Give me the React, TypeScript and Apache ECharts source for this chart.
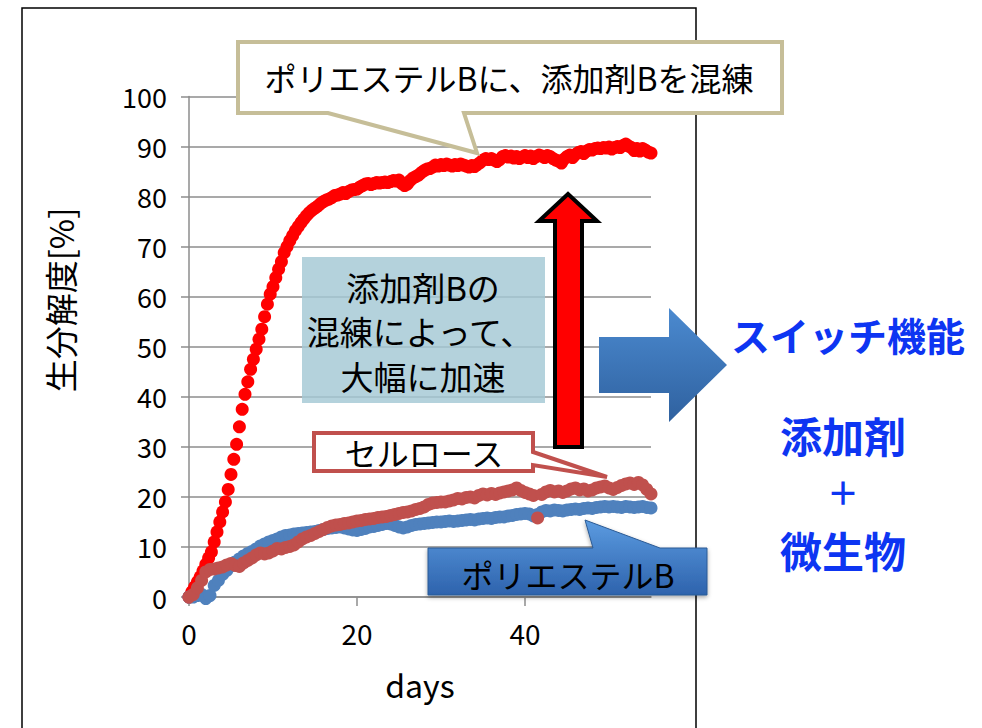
import React, { useEffect, useRef } from "react";
import * as echarts from "echarts";

// ---- data ----
const RED_INTERVAL_DAYS = 1 / 3; // sampling interval of the additive series
const LOW_INTERVAL_DAYS = 0.5; // sampling interval of the two lower series

const ADDITIVE_NAME = "ポリエステルB＋添加剤B";
const ADDITIVE_VALUES = [
  0, 1, 2, 3, 4, 5.2, 6.5, 7.8, 9, 11,
  13, 15, 17, 19, 21.5, 24.5, 27.5, 30.5, 34, 37.5,
  40.5, 43, 45.5, 47.5, 49.5, 51.5, 53.5, 56, 58.5, 60.5,
  62, 63.8, 65.5, 67, 68.8, 70, 71.2, 72.2, 73.2, 74,
  74.8, 75.5, 76.2, 76.8, 77.3, 77.7, 78.1, 78.6, 79, 79.3,
  79.5, 79.8, 80.2, 80.3, 80.5, 80.8, 80.6, 81, 81.3, 81.4,
  81.5, 81.9, 82.2, 82.5, 82.6, 82.4, 82.6, 82.8, 82.7, 82.8,
  82.9, 82.8, 83, 83.2, 83.1, 83.3, 82.6, 82.2, 82.5, 83.2,
  83.7, 84, 84.3, 84.8, 85.2, 85.5, 85.6, 85.9, 86.3, 86.1,
  86.4, 86.2, 86.5, 86.3, 86.1, 86.4, 86.2, 86.5, 86.3, 86.1,
  85.9, 86.2, 86, 86.4, 86.8, 87.3, 87.6, 87.4, 87.6, 87.3,
  87, 87.4, 88, 88.2, 87.9, 88.1, 87.7, 88, 87.6, 87.9,
  88.2, 87.8, 88.1, 87.6, 88, 88.3, 88.1, 87.8, 88.2, 88,
  87.6, 87.3, 87.1, 86.7, 87.5, 88, 88.3, 87.8, 88.4, 88.8,
  89, 88.6, 89.1, 89.4, 89.3, 89.6, 89.7, 89.6, 89.8, 89.7,
  89.9, 89.5, 89.8, 90, 89.8, 90.2, 90.5, 90.1, 89.8, 89.2,
  89.6, 89.1, 89.6, 89.3, 88.9, 88.7,
];

const POLYESTER_NAME = "ポリエステルB";
const POLYESTER_VALUES = [
  0, 0, 0.3, 0.5, -0.3, 0.3, 2.3, 3.3, 4.5, 5.3,
  6.2, 7, 7.6, 8.2, 8.7, 9.1, 9.6, 10.2, 10.6, 11,
  11.3, 11.6, 12, 12.3, 12.4, 12.6, 12.7, 12.8, 12.9, 13,
  13.1, 13.3, 13.5, 13.7, 13.8, 13.9, 14, 13.8, 13.6, 13.4,
  13.3, 13.5, 13.7, 14, 14.1, 14.3, 14.5, 14.7, 14.6, 14.3,
  14, 13.8, 14, 14.3, 14.5, 14.6, 14.7, 14.8, 14.9, 15,
  15, 15.1, 15.2, 15.1, 15.2, 15.3, 15.4, 15.5, 15.4, 15.6,
  15.7, 15.8, 15.7, 15.9, 16, 16, 16.2, 16.3, 16.5, 16.6,
  16.7, 16.6, 16.2, 16.5, 17, 17.3, 17.2, 17.4, 17.3, 17.2,
  17.4, 17.5, 17.6, 17.5, 17.7, 17.8, 17.7, 17.9, 18, 18.1,
  18, 18.1, 18, 17.9, 18.1, 18, 17.9, 18, 18.1, 17.9, 17.8,
];

const CELLULOSE_NAME = "セルロース";
const CELLULOSE_VALUES = [
  0, 0.5, 1.8, 3.3, 5, 5.5, 5.6, 5.8, 6, 6.4,
  6.7, 6.3, 6.1, 6.8, 7.3, 7.8, 8.4, 8.8, 8.6, 8.8,
  9.2, 9.7, 9.6, 9.9, 10.1, 10.4, 11, 11.6, 12, 12.3,
  12.7, 13.1, 13.5, 13.9, 14.2, 14.4, 14.5, 14.7, 14.8, 15,
  15.2, 15.3, 15.5, 15.6, 15.7, 15.9, 16, 16.1, 16.3, 16.5,
  16.7, 16.9, 17, 17.2, 17.5, 17.7, 18, 18.5, 18.8, 18.9,
  19, 19, 19.2, 19.4, 19.7, 19.6, 19.9, 20, 19.8, 20.3,
  20.6, 20.4, 20.7, 20.5, 20.8, 21, 21.2, 21.4, 21.8, 21.3,
  20.9, 20.6, 20.3, 15.8, 20.5, 21, 21.3, 21, 21.2, 20.9,
  21.2, 21.6, 21.8, 21.4, 21.6, 21.2, 21.4, 21.8, 22, 22.2,
  21.8, 21.5, 21.9, 22.3, 22.6, 22.8, 22.5, 22.9, 22.4, 21.5, 20.6,
];

const X_TICKS = [0, 20, 40];
const X_MAX = 55;
const Y_MIN = 0;
const Y_MAX = 100;
const Y_INTERVAL = 10;

const X_TITLE = "days";
const Y_TITLE = "生分解度[%]";
const CALLOUT_TOP = "ポリエステルBに、添加剤Bを混練";
const NOTE_LINES = ["添加剤Bの", "混練によって、", "大幅に加速"];
const RIGHT_TITLE = "スイッチ機能";
const RIGHT_LINES = ["添加剤", "＋", "微生物"];

const JP = "'Noto Sans CJK JP', 'Noto Sans', sans-serif";

const toPairs = (vals: number[], step: number) =>
  vals.map((v, i) => [i * step, v]);

export default function App() {
  const ref = useRef<HTMLDivElement>(null);

  useEffect(() => {
    if (!ref.current) return;
    const chart = echarts.init(ref.current, null, { renderer: "svg" });

    const blueGrad = new echarts.graphic.LinearGradient(0, 0, 0, 1, [
      { offset: 0, color: "#4b8ad0" },
      { offset: 1, color: "#2f619f" },
    ]);
    const calloutGrad = new echarts.graphic.LinearGradient(0, 0, 0, 1, [
      { offset: 0, color: "#5b9be0" },
      { offset: 1, color: "#2e63ad" },
    ]);

    const txt = (
      text: string,
      x: number,
      y: number,
      fontSize: number,
      fill = "#000",
      fontWeight: any = "normal",
      lineHeight?: number,
      rotation = 0
    ) => ({
      type: "text",
      z: 110,
      x,
      y,
      rotation,
      style: {
        text,
        fill,
        fontSize,
        lineHeight: lineHeight ?? fontSize,
        fontWeight,
        fontFamily: JP,
        align: "center",
        verticalAlign: "middle",
        textAlign: "center",
        textVerticalAlign: "middle",
      },
    });

    const option: any = {
      animation: false,
      backgroundColor: "#ffffff",
      grid: {
        left: 189,
        top: 96.5,
        right: 982 - 651,
        bottom: 728 - 597,
        containLabel: false,
        outerBoundsMode: "none",
      },
      xAxis: {
        type: "value",
        min: 0,
        max: X_MAX,
        interval: 20,
        name: X_TITLE,
        nameLocation: "middle",
        nameGap: 71,
        nameTextStyle: {
          fontSize: 32,
          color: "#000",
          fontFamily: JP,
          verticalAlign: "top",
        },
        axisLine: { show: true, lineStyle: { color: "#8c8c8c", width: 1.5 } },
        axisTick: {
          show: true,
          inside: false,
          length: 9,
          customValues: X_TICKS,
          lineStyle: { color: "#8c8c8c", width: 1.5 },
        },
        axisLabel: {
          show: true,
          customValues: X_TICKS,
          fontSize: 28,
          color: "#000",
          fontFamily: JP,
          margin: 22,
        },
        splitLine: { show: false },
      },
      yAxis: {
        type: "value",
        min: Y_MIN,
        max: Y_MAX,
        interval: Y_INTERVAL,
        axisLine: { show: true, lineStyle: { color: "#8c8c8c", width: 1.5 } },
        axisTick: {
          show: true,
          inside: false,
          length: 8,
          lineStyle: { color: "#8c8c8c", width: 1.5 },
        },
        axisLabel: {
          fontSize: 27,
          color: "#000",
          fontFamily: JP,
          margin: 22,
        },
        splitLine: { show: true, lineStyle: { color: "#8c8c8c", width: 1.5 } },
      },
      series: [
        {
          name: ADDITIVE_NAME,
          type: "scatter",
          clip: false,
          symbol: "circle",
          symbolSize: 13,
          itemStyle: { color: "#ff0000", opacity: 1 },
          data: toPairs(ADDITIVE_VALUES, RED_INTERVAL_DAYS),
          z: 2,
        },
        {
          name: POLYESTER_NAME,
          type: "scatter",
          clip: false,
          symbol: "circle",
          symbolSize: 13,
          itemStyle: { color: "#4f81bd", opacity: 1 },
          data: toPairs(POLYESTER_VALUES, LOW_INTERVAL_DAYS),
          z: 3,
        },
        {
          name: CELLULOSE_NAME,
          type: "scatter",
          clip: false,
          symbol: "circle",
          symbolSize: 13,
          itemStyle: { color: "#c0504d", opacity: 1 },
          data: toPairs(CELLULOSE_VALUES, LOW_INTERVAL_DAYS),
          z: 4,
        },
      ],
      graphic: {
        elements: [
          {
            type: "rect",
            z: 100,
            shape: { x: 22, y: 8, width: 674, height: 740 },
            style: { fill: "none", stroke: "#000", lineWidth: 1.5 },
          },
          // y-axis title (rotated, reading bottom to top)
          txt(Y_TITLE, 60, 300, 33, "#000", "normal", 33, Math.PI / 2),
          // top callout
          {
            type: "polygon",
            z: 105,
            shape: {
              points: [
                [238, 42],
                [782, 42],
                [782, 113],
                [464, 113],
                [477, 153],
                [328, 113],
                [238, 113],
              ],
            },
            style: { fill: "#ffffff", stroke: "#c6be98", lineWidth: 4, lineJoin: "miter" },
          },
          txt(CALLOUT_TOP, 509, 77, 32),
          // light blue note box
          {
            type: "rect",
            z: 105,
            shape: { x: 302, y: 257, width: 243, height: 146 },
            style: { fill: "rgba(163,200,212,0.82)" },
          },
          txt(NOTE_LINES[0], 423, 287, 33),
          txt(NOTE_LINES[1], 420, 331, 33),
          txt(NOTE_LINES[2], 423, 376, 33),
          // red up arrow
          {
            type: "polygon",
            z: 105,
            shape: {
              points: [
                [555, 447],
                [555, 221],
                [539, 221],
                [568, 194],
                [597, 221],
                [582, 221],
                [582, 447],
              ],
            },
            style: { fill: "#ff0000", stroke: "#000", lineWidth: 4, lineJoin: "miter" },
          },
          // blue right arrow
          {
            type: "polygon",
            z: 105,
            shape: {
              points: [
                [599, 337],
                [669, 337],
                [669, 308],
                [727, 365],
                [669, 422],
                [669, 393],
                [599, 393],
              ],
            },
            style: { fill: blueGrad },
          },
          // cellulose callout
          {
            type: "polygon",
            z: 105,
            shape: {
              points: [
                [314, 433],
                [533, 433],
                [533, 452],
                [607, 477],
                [533, 465],
                [533, 471],
                [314, 471],
              ],
            },
            style: { fill: "#ffffff", stroke: "#c0504d", lineWidth: 4, lineJoin: "miter" },
          },
          txt(CELLULOSE_NAME, 424, 452, 32),
          // polyester callout
          {
            type: "polygon",
            z: 105,
            shape: {
              points: [
                [428, 548],
                [593, 548],
                [585, 520],
                [660, 548],
                [707, 548],
                [707, 595],
                [428, 595],
              ],
            },
            style: {
              fill: calloutGrad,
              stroke: "#2b5a94",
              lineWidth: 1,
              shadowBlur: 4,
              shadowOffsetY: 2,
              shadowColor: "rgba(0,0,0,0.35)",
            },
          },
          txt(POLYESTER_NAME, 568, 574, 32),
          // right side texts
          txt(RIGHT_TITLE, 848, 334, 39, "#0d35f2", "bold"),
          txt(RIGHT_LINES[0], 843, 434, 42, "#0d35f2", "bold"),
          txt(RIGHT_LINES[1], 843, 491, 32, "#0d35f2", "bold"),
          txt(RIGHT_LINES[2], 843, 549, 42, "#0d35f2", "bold"),
        ],
      },
    };

    chart.setOption(option);
    return () => chart.dispose();
  }, []);

  return (
    <div
      ref={ref}
      style={{ position: "fixed", left: 0, top: 0, width: 982, height: 728, background: "#fff" }}
    />
  );
}
